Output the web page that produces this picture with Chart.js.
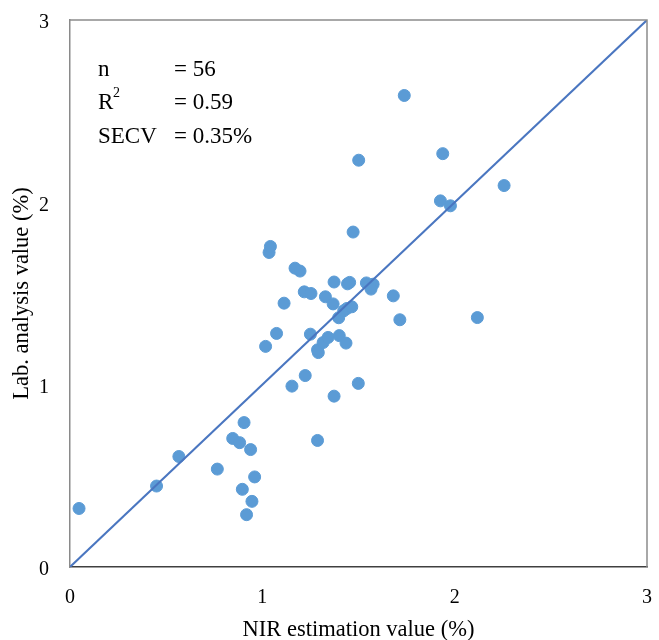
<!DOCTYPE html>
<html>
<head>
<meta charset="utf-8">
<script src="https://cdn.jsdelivr.net/npm/chart.js@4"></script>
<style>
  html, body { margin: 0; padding: 0; background: #fff; }
  #wrap { width: 659px; height: 640px; }
</style>
</head>
<body>
<div id="wrap"><canvas id="c" width="659" height="640"></canvas></div>
<script>
// NIR estimation (x) vs lab analysis (y), values in %
const nirValues = [
  0.047, 0.45, 0.566, 0.766, 0.846, 0.882, 0.905, 0.939, 0.96, 0.896,
  0.946, 0.918, 1.017, 1.035, 1.042, 1.074, 1.113, 1.154, 1.17, 1.196,
  1.218, 1.253, 1.223, 1.25, 1.287, 1.291, 1.287, 1.316, 1.328, 1.342,
  1.373, 1.368, 1.373, 1.397, 1.4, 1.435, 1.423, 1.44, 1.465, 1.443,
  1.454, 1.472, 1.501, 1.499, 1.541, 1.576, 1.565, 1.681, 1.715, 1.738,
  1.926, 1.938, 1.978, 2.118, 2.257
];
const labValues = [
  0.321, 0.444, 0.606, 0.537, 0.705, 0.682, 0.792, 0.644, 0.494, 0.426,
  0.36, 0.287, 1.21, 1.725, 1.758, 1.281, 1.447, 0.992, 1.639, 1.623,
  1.509, 1.5, 1.05, 1.277, 1.191, 1.176, 0.694, 1.231, 1.482, 1.259,
  1.563, 1.443, 0.937, 1.367, 1.269, 1.228, 1.405, 1.418, 1.427, 1.553,
  1.561, 1.837, 2.231, 1.007, 1.558, 1.551, 1.524, 1.487, 1.356, 2.586,
  2.008, 2.267, 1.981, 1.368, 2.092
];
const axisTicks = [0, 1, 2, 3];
const oneToOne = [0, 3];

const statLabels = ['n', 'R', 'SECV'];
const statValues = ['= 56', '= 0.59', '= 0.35%'];

const points = nirValues.map((x, i) => ({ x: x, y: labValues[i] }));
const serif = "'Liberation Serif', 'Times New Roman', serif";

// frame on top/right + stats text block
const extras = {
  id: 'extras',
  afterDraw(chart) {
    const { ctx, chartArea: a } = chart;
    ctx.save();
    ctx.strokeStyle = '#8c8c8c';
    ctx.lineWidth = 1.5;
    ctx.beginPath();
    ctx.moveTo(a.left, a.top);
    ctx.lineTo(a.right, a.top);
    ctx.lineTo(a.right, a.bottom);
    ctx.stroke();

    ctx.fillStyle = '#000';
    ctx.textBaseline = 'middle';
    const ys = [70, 103, 137];
    statLabels.forEach((t, i) => {
      ctx.font = '23px ' + serif;
      ctx.fillText(t, 98, ys[i]);
      if (t === 'R') {
        ctx.font = '14px ' + serif;
        ctx.fillText('2', 113, ys[i] - 10);
      }
      ctx.font = '23px ' + serif;
      ctx.fillText(statValues[i], 174, ys[i]);
    });
    ctx.restore();
  }
};

new Chart(document.getElementById('c'), {
  data: {
    datasets: [
      {
        type: 'scatter',
        data: points,
        backgroundColor: '#5b9bd5',
        borderColor: '#5b9bd5',
        pointRadius: 6,
        pointHoverRadius: 6,
        order: 2
      },
      {
        type: 'line',
        data: oneToOne.map(v => ({ x: v, y: v })),
        borderColor: '#4a76c0',
        borderWidth: 2,
        pointRadius: 0,
        fill: false,
        order: 1
      }
    ]
  },
  options: {
    responsive: false,
    animation: false,
    layout: { padding: { top: 20, right: 12, left: 0, bottom: 0 } },
    plugins: {
      legend: { display: false },
      tooltip: { enabled: false }
    },
    scales: {
      x: {
        type: 'linear',
        min: 0, max: 3,
        afterBuildTicks: s => { s.ticks = axisTicks.map(v => ({ value: v })); },
        afterFit: s => { s.height = 73; s.paddingLeft = 0; s.paddingRight = 0; },
        grid: { display: false, drawTicks: false },
        border: { display: true, color: '#404040', width: 1.5 },
        ticks: { color: '#000', padding: 19, font: { family: serif, size: 20 } },
        title: {
          display: true,
          text: 'NIR estimation value (%)',
          color: '#000',
          padding: { top: 0, bottom: -4 },
          font: { family: serif, size: 22.5 }
        }
      },
      y: {
        type: 'linear',
        min: 0, max: 3,
        afterBuildTicks: s => { s.ticks = axisTicks.map(v => ({ value: v })); },
        afterFit: s => { s.width = 70; s.paddingTop = 0; s.paddingBottom = 0; },
        grid: { display: false, drawTicks: false },
        border: { display: true, color: '#8a8a8a', width: 1.5 },
        ticks: { color: '#000', padding: 21, labelOffset: 3, font: { family: serif, size: 20 } },
        title: {
          display: true,
          text: 'Lab. analysis value (%)',
          color: '#000',
          padding: { top: 9, bottom: 0 },
          font: { family: serif, size: 22.5 }
        }
      }
    }
  },
  plugins: [extras]
});
</script>
</body>
</html>
